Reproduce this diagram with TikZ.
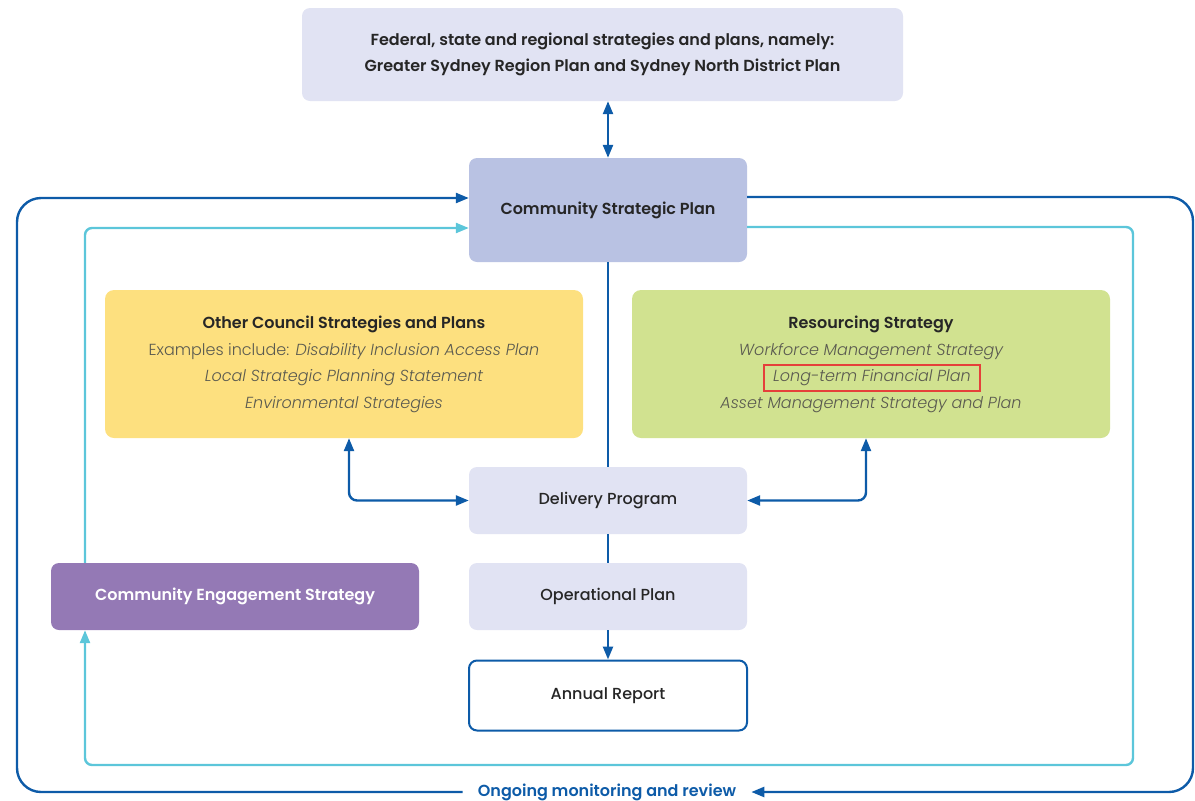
\documentclass[tikz,border=0pt]{standalone}
\usepackage{fontspec}
\setmainfont{Poppins Medium}[BoldFont={Poppins SemiBold}, ItalicFont={Poppins Light Italic}]
\newfontfamily\lightfont{Poppins Light}
\usetikzlibrary{arrows.meta,positioning}

\definecolor{lav}{HTML}{E1E3F3}
\definecolor{cspfill}{HTML}{B9C2E3}
\definecolor{ylw}{HTML}{FDE07F}
\definecolor{grn}{HTML}{D1E290}
\definecolor{purp}{HTML}{9479B5}
\definecolor{navy}{HTML}{0D5BA8}
\definecolor{aqua}{HTML}{5CC6DA}
\definecolor{txt}{HTML}{262626}
\definecolor{soft}{HTML}{5A5A50}
\definecolor{mark}{HTML}{E5403A}

\newcommand\plainfont{\fontsize{16}{19}\selectfont}

\tikzset{
  panel/.style={rounded corners=8pt, minimum width=278pt, minimum height=67pt, align=center, text=txt, font=\plainfont},
  bigpanel/.style={rounded corners=9pt, minimum width=478pt, minimum height=148pt},
  head/.style={text=txt, font=\plainfont\bfseries},
  entry/.style={text=soft, font=\plainfont\itshape},
  navyline/.style={draw=navy, line width=2.4pt, -{Triangle[length=13pt,width=10pt]}},
  aqualine/.style={draw=aqua, line width=2.4pt, -{Triangle[length=13pt,width=10pt]}},
}

\begin{document}
\begin{tikzpicture}[x=1pt, y=-1pt]
        \useasboundingbox (0,0) rectangle (1195,801);

        % Top level plans
        \node[panel, fill=lav, minimum width=601pt, minimum height=93pt, font=\plainfont\bfseries] (fed) at (602.5,54.5)
            {Federal, state and regional strategies and plans, namely:\\[7pt]Greater Sydney Region Plan and Sydney North District Plan};

        % Main column
        \node[panel, fill=cspfill, minimum height=104pt, font=\plainfont\bfseries] (csp) at (608,210) {Community Strategic Plan};
        \node[panel, fill=lav] (dp) at (608,500.5) {Delivery Program};
        \node[panel, fill=lav] (op) at (608,596.5) {Operational Plan};
        \node[panel, draw=navy, line width=2pt, fill=white, minimum height=70pt] (ar) at (608,695.5) {Annual Report};

        % Other council strategies
        \node[bigpanel, fill=ylw] (oth) at (344,364) {};
        \node[head] (oth-title) at (344,324) {Other Council Strategies and Plans};
        \node[entry] (oth-a) at (344,352) {{\lightfont\upshape Examples include:} Disability Inclusion Access Plan};
        \node[entry] (oth-b) at (344,378) {Local Strategic Planning Statement};
        \node[entry] (oth-c) at (344,405) {Environmental Strategies};

        % Resourcing strategy
        \node[bigpanel, fill=grn] (res) at (871,364) {};
        \node[head] (res-title) at (871,324) {Resourcing Strategy};
        \node[entry] (res-a) at (871,352) {Workforce Management Strategy};
        \node[entry, draw=mark, line width=1.4pt, inner xsep=9pt, inner ysep=5pt] (res-b) at (872,378) {Long-term Financial Plan};
        \node[entry] (res-c) at (871,405) {Asset Management Strategy and Plan};

        % Engagement
        \node[panel, fill=purp, minimum width=368pt, text=white, font=\plainfont\bfseries] (ces) at (235,596.5) {Community Engagement Strategy};

        % Review label
        \node[text=navy, font=\plainfont\bfseries, inner xsep=15pt] (rev) at (607,792) {Ongoing monitoring and review};

        % Connections
        \draw[navyline, {Triangle[length=13pt,width=10pt]}-{Triangle[length=13pt,width=10pt]}] (csp.north |- fed.south) -- (csp.north);
        \draw[navy, line width=2.4pt] (csp.south) -- (dp.north);
        \draw[navy, line width=2.4pt] (dp.south) -- (op.north);
        \draw[navyline] (op.south) -- (ar.north);
        \draw[navyline, {Triangle[length=13pt,width=10pt]}-{Triangle[length=13pt,width=10pt]}, rounded corners=8pt] ([xshift=5pt]oth.south) |- (dp.west);
        \draw[navyline, {Triangle[length=13pt,width=10pt]}-{Triangle[length=13pt,width=10pt]}, rounded corners=8pt] ([xshift=-5pt]res.south) |- (dp.east);

        % Engagement loop
        \draw[aqualine, rounded corners=7pt] ([yshift=-17pt]csp.east) -- (1133,227) -- (1133,765) -- (85,765) -- (ces.south -| 85,0);
        \draw[aqualine, rounded corners=7pt] (ces.north -| 85,0) -- (85,228) -- ([yshift=-18pt]csp.west);

        % Monitoring loop
        \draw[navyline, rounded corners=24pt] ([yshift=13pt]csp.east) -- (1193,197) -- (1193,792) -- (rev.east);
        \draw[navyline, rounded corners=24pt] (rev.west) -- (17,792) -- (17,198) -- ([yshift=12pt]csp.west);
    \end{tikzpicture}
\end{document}
